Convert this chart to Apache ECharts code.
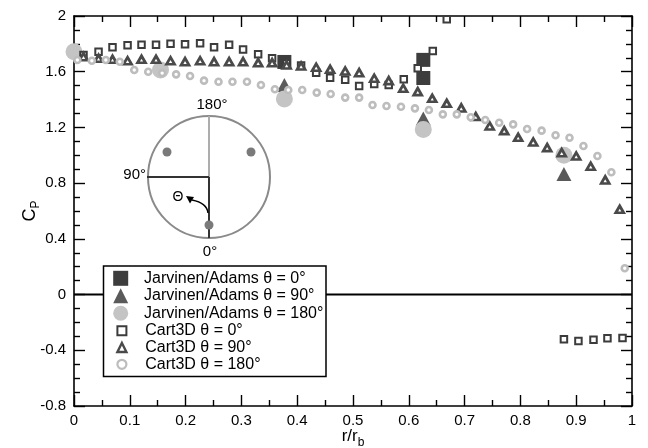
<!DOCTYPE html>
<html><head><meta charset="utf-8">
<script src="https://cdn.jsdelivr.net/npm/echarts@6/dist/echarts.min.js"></script>
<style>html,body{margin:0;padding:0;background:#fff}#c{width:648px;height:448px}</style>
</head><body><div id="c"></div>
<script>
const FONT = '"Liberation Sans", Arial, Helvetica, sans-serif';

// Cart3D theta = 0 deg (open squares)
const cart0R  = [0.017,0.044,0.069,0.096,0.121,0.147,0.173,0.199,0.226,0.251,0.278,0.303,0.330,0.355,0.381,0.407,0.434,0.459,0.486,0.511,0.538,0.564,0.591,0.616,0.643,0.668,0.878,0.904,0.931,0.956,0.983];
const cart0Cp = [1.72,1.744,1.775,1.79,1.794,1.794,1.80,1.797,1.804,1.775,1.794,1.76,1.725,1.696,1.66,1.645,1.593,1.557,1.543,1.497,1.512,1.505,1.546,1.625,1.749,1.976,-0.321,-0.333,-0.324,-0.314,-0.312];
// Cart3D theta = 90 deg (open triangles)
const cart90R  = [0.017,0.044,0.069,0.096,0.121,0.147,0.173,0.199,0.226,0.251,0.278,0.303,0.330,0.355,0.381,0.407,0.434,0.459,0.486,0.511,0.538,0.564,0.590,0.616,0.642,0.668,0.694,0.720,0.745,0.771,0.796,0.823,0.848,0.874,0.900,0.926,0.952,0.978];
const cart90Cp = [1.708,1.696,1.689,1.679,1.689,1.689,1.679,1.672,1.679,1.672,1.672,1.672,1.665,1.665,1.648,1.641,1.632,1.617,1.605,1.593,1.553,1.536,1.481,1.457,1.409,1.373,1.34,1.278,1.21,1.177,1.129,1.095,1.055,1.019,0.995,0.921,0.823,0.612];
// Cart3D theta = 180 deg (open circles)
const cart180R  = [0.006,0.032,0.057,0.082,0.108,0.133,0.158,0.183,0.208,0.233,0.259,0.284,0.310,0.335,0.360,0.384,0.409,0.435,0.460,0.486,0.511,0.535,0.560,0.586,0.611,0.636,0.661,0.686,0.711,0.737,0.762,0.787,0.812,0.838,0.863,0.888,0.913,0.938,0.963,0.987];
const cart180Cp = [1.684,1.679,1.684,1.672,1.612,1.60,1.59,1.581,1.569,1.536,1.528,1.528,1.528,1.505,1.474,1.469,1.469,1.45,1.44,1.414,1.414,1.361,1.354,1.349,1.337,1.325,1.294,1.294,1.273,1.253,1.234,1.222,1.189,1.177,1.144,1.126,1.067,0.995,0.878,0.189];
// Jarvinen/Adams experiment
const ja0R = [0.377,0.626,0.626];
const ja0Cp = [1.67,1.685,1.555];
const ja90R = [0.377,0.626,0.878];
const ja90Cp = [1.505,1.265,0.866];
const ja180R = [0,0.155,0.377,0.626,0.878];
const ja180Cp = [1.744,1.612,1.405,1.185,1.0];
const zeroLine = [[0,0],[1,0]];

const names = ['Jarvinen/Adams θ = 0°','Jarvinen/Adams θ = 90°','Jarvinen/Adams θ = 180°','Cart3D θ = 0°','Cart3D θ = 90°','Cart3D θ = 180°'];
const zip = (a,b) => a.map((v,i)=>[v,b[i]]);

const C_JA0 = '#3d3d3d', C_JA90 = '#5a5a5a', C_JA180 = '#c4c4c4';
const C_C0 = '#3c3c3c', C_C90 = '#4a4a4a', C_C180 = '#bdbdbd';

const axisCommon = {
  min: 0, max: 1, interval: 0.1,
  axisLine: {onZero:false, lineStyle:{color:'#000', width:1.6}},
  axisTick: {inside:true, length:11, lineStyle:{color:'#000', width:1.4}},
  minorTick: {show:true, splitNumber:2, length:6, lineStyle:{color:'#000', width:1.4}},
  splitLine: {show:false}
};
const yCommon = {
  min: -0.8, max: 2, interval: 0.4,
  axisLine: {onZero:false, lineStyle:{color:'#000', width:1.6}},
  axisTick: {inside:true, length:11, lineStyle:{color:'#000', width:1.4}},
  minorTick: {show:true, splitNumber:4, length:6, lineStyle:{color:'#000', width:1.4}},
  splitLine: {show:false}
};

const chart = echarts.init(document.getElementById('c'), null, {renderer:'canvas'});
chart.setOption({
  animation: false,
  backgroundColor: '#fff',
  textStyle: {fontFamily: FONT},
  grid: {left:74, right:16, top:16, bottom:42, containLabel:false, outerBoundsMode:'none'},
  xAxis: [
    Object.assign({type:'value', position:'bottom',
      name:'{a|r/r}{sub|b}', nameLocation:'middle', nameGap:22, nameMoveOverlap:false,
      nameTextStyle:{color:'#000', rich:{a:{fontSize:17, fontFamily:FONT, color:'#000', lineHeight:20, verticalAlign:'top'}, sub:{fontSize:12, fontFamily:FONT, color:'#000', lineHeight:12, padding:[9,0,0,0]}}},
      axisLabel:{color:'#000', fontSize:15, fontFamily:FONT, margin:7}}, axisCommon),
    Object.assign({type:'value', position:'top', axisLabel:{show:false}}, axisCommon)
  ],
  yAxis: [
    Object.assign({type:'value', position:'left',
      name:'{a|C}{sub|P}', nameLocation:'middle', nameGap:33, nameRotate:90, nameMoveOverlap:false,
      nameTextStyle:{color:'#000', rich:{a:{fontSize:18, fontFamily:FONT, color:'#000', lineHeight:20, verticalAlign:'top'}, sub:{fontSize:12, fontFamily:FONT, color:'#000', lineHeight:12, padding:[9,0,0,0]}}},
      axisLabel:{color:'#000', fontSize:15, fontFamily:FONT, margin:8}}, yCommon),
    Object.assign({type:'value', position:'right', axisLabel:{show:false}}, yCommon)
  ],
  legend: [
    {
      data: [
        {name:names[0], icon:'rect', itemStyle:{color:C_JA0, borderWidth:0}},
        {name:names[1], icon:'triangle', itemStyle:{color:C_JA90, borderWidth:0}},
        {name:names[2], icon:'circle', itemStyle:{color:C_JA180, borderWidth:0}}
      ],
      orient:'vertical', left:113.2, top:270.3, padding:0,
      itemWidth:15, itemHeight:15, itemGap:1.5, z:6,
      selectedMode:false,
      textStyle:{fontSize:16, fontFamily:FONT, color:'#000', lineHeight:16, padding:[0,0,0,10.8]}
    },
    {
      data: [
        {name:names[3], icon:'rect', itemStyle:{color:'#fff', borderColor:C_C0, borderWidth:2}},
        {name:names[4], icon:'triangle', itemStyle:{color:'#fff', borderColor:C_C90, borderWidth:2.4}},
        {name:names[5], icon:'circle', itemStyle:{color:'#fff', borderColor:C_C180, borderWidth:2.2}}
      ],
      orient:'vertical', left:116.2, top:322.7, padding:0,
      itemWidth:9, itemHeight:9, itemGap:0.8, z:6,
      selectedMode:false,
      textStyle:{fontSize:16, fontFamily:FONT, color:'#000', lineHeight:16, padding:[0,0,0,13.8]}
    }
  ],
  graphic: [
    {type:'rect', z:5, shape:{x:103.5, y:266, width:222.5, height:110.5}, style:{fill:'#fff', stroke:'#000', lineWidth:1.5}},
    {type:'circle', z:3, shape:{cx:209, cy:177, r:61}, style:{fill:'none', stroke:'#8a8a8a', lineWidth:2}},
    {type:'line', z:3, shape:{x1:209, y1:116, x2:209, y2:177}, style:{stroke:'#adadad', lineWidth:2}},
    {type:'line', z:3, shape:{x1:147, y1:177, x2:209, y2:177}, style:{stroke:'#333', lineWidth:2}},
    {type:'line', z:3, shape:{x1:209, y1:177, x2:209, y2:238}, style:{stroke:'#333', lineWidth:2}},
    {type:'circle', z:3, shape:{cx:167, cy:152, r:4.5}, style:{fill:'#7a7a7a'}},
    {type:'circle', z:3, shape:{cx:251, cy:152, r:4.5}, style:{fill:'#7a7a7a'}},
    {type:'circle', z:3, shape:{cx:209, cy:225, r:4.5}, style:{fill:'#7a7a7a'}},
    {type:'text', z:3, style:{text:'180°', x:212, y:105, align:'center', verticalAlign:'middle', fontSize:15, fontFamily:FONT, fill:'#000'}},
    {type:'text', z:3, style:{text:'90°', x:146, y:175, align:'right', verticalAlign:'middle', fontSize:15, fontFamily:FONT, fill:'#000'}},
    {type:'text', z:3, style:{text:'0°', x:210, y:252, align:'center', verticalAlign:'middle', fontSize:15, fontFamily:FONT, fill:'#000'}},
    {type:'text', z:3, style:{text:'Θ', x:178, y:197, align:'center', verticalAlign:'middle', fontSize:14, fontFamily:FONT, fill:'#000'}},
    {type:'bezierCurve', z:3, shape:{x1:208, y1:213, x2:192, y2:200, cpx1:207, cpy1:203}, style:{stroke:'#000', lineWidth:1.5, fill:'none'}},
    {type:'polygon', z:3, shape:{points:[[186,196],[194,197],[190,203.5]]}, style:{fill:'#000'}}
  ],
  series: [
    {type:'line', data:zeroLine, symbol:'none', silent:true, z:1, lineStyle:{color:'#000', width:2}, xAxisIndex:0, yAxisIndex:0},
    {name:names[0], type:'scatter', data:zip(ja0R, ja0Cp), symbol:'rect', symbolSize:14, clip:false, z:2, itemStyle:{color:C_JA0, opacity:1}},
    {name:names[1], type:'scatter', data:zip(ja90R, ja90Cp), symbol:'triangle', symbolSize:[15,14], clip:false, z:2, itemStyle:{color:C_JA90, opacity:1}},
    {name:names[2], type:'scatter', data:zip(ja180R, ja180Cp), symbol:'circle', symbolSize:17, clip:false, z:2, itemStyle:{color:C_JA180, opacity:1}},
    {name:names[3], type:'scatter', data:zip(cart0R, cart0Cp), symbol:'rect', symbolSize:6.5, clip:false, z:3, itemStyle:{color:'#fff', borderColor:C_C0, borderWidth:2, opacity:1}},
    {name:names[4], type:'scatter', data:zip(cart90R, cart90Cp), symbol:'triangle', symbolSize:[8,7], clip:false, z:3, itemStyle:{color:'#fff', borderColor:C_C90, borderWidth:2.7, opacity:1}},
    {name:names[5], type:'scatter', data:zip(cart180R, cart180Cp), symbol:'circle', symbolSize:6, clip:false, z:3, itemStyle:{color:'#fff', borderColor:C_C180, borderWidth:2.6, opacity:1}}
  ]
});
</script>
</body></html>
